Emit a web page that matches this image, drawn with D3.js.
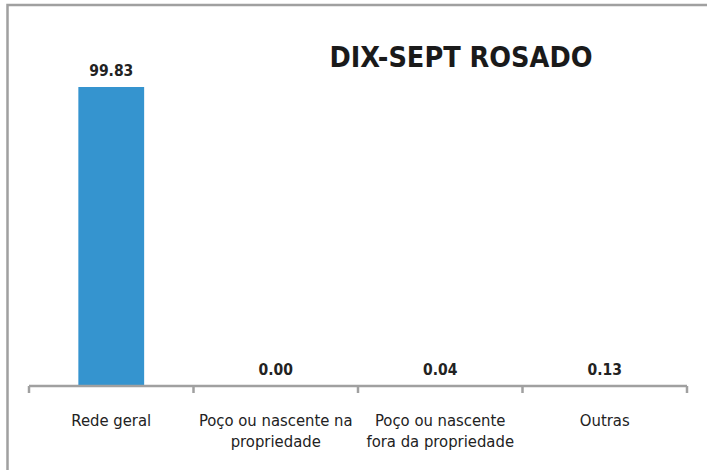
<!DOCTYPE html>
<html>
<head>
<meta charset="utf-8">
<script src="https://cdn.jsdelivr.net/npm/d3@7"></script>
<style>
  body { margin: 0; background: #fff; }
  svg { display: block; }
</style>
</head>
<body>
<div id="chart"></div>
<script>
var title = "DIX-SEPT ROSADO";
var categories = ["Rede geral", "Poço ou nascente na propriedade", "Poço ou nascente fora da propriedade", "Outras"];
var categoryLines = [["Rede geral"], ["Poço ou nascente na", "propriedade"], ["Poço ou nascente", "fora da propriedade"], ["Outras"]];
var values = [99.83, 0.00, 0.04, 0.13];

var W = 707, H = 470;
var margin = {top: 26.6, right: 20, bottom: 84, left: 29};

var svg = d3.select("#chart").append("svg")
  .attr("width", W)
  .attr("height", H);

// outer frame (only top and left visible in the crop)
svg.append("path")
  .attr("d", "M7.5," + H + "V5H" + W)
  .attr("fill", "none")
  .attr("stroke", "#a0a0a0")
  .attr("stroke-width", 2.5);

var x = d3.scaleBand()
  .domain(categories)
  .range([margin.left, 687])
  .paddingInner(0.6)
  .paddingOuter(0.3);

var y = d3.scaleLinear()
  .domain([0, 120])
  .range([386, margin.top]);

var font = "'Liberation Sans Narrow', 'DejaVu Sans Condensed', 'Liberation Sans', sans-serif";

svg.selectAll(".bar")
  .data(values)
  .enter().append("rect")
  .attr("class", "bar")
  .attr("x", function(d, i) { return x(categories[i]); })
  .attr("width", x.bandwidth())
  .attr("y", function(d) { return y(d); })
  .attr("height", function(d) { return y(0) - y(d); })
  .attr("fill", "#3594cf");

// value labels
svg.selectAll(".val")
  .data(values)
  .enter().append("text")
  .attr("class", "val")
  .attr("x", function(d, i) { return x(categories[i]) + x.bandwidth() / 2; })
  .attr("y", function(d) { return y(d) - 11; })
  .attr("text-anchor", "middle")
  .attr("font-family", font)
  .attr("font-weight", "bold")
  .attr("font-size", 15.5)
  .attr("fill", "#222")
  .text(function(d) { return d3.format(".2f")(d); });

// x axis with ticks between categories
var axis = svg.append("g");
var step = x.step();
var edges = d3.range(categories.length + 1).map(function(i) { return margin.left + i * step; });
axis.append("line")
  .attr("x1", margin.left).attr("x2", 687)
  .attr("y1", 386).attr("y2", 386)
  .attr("stroke", "#a0a0a0").attr("stroke-width", 2.5);
axis.selectAll(".tick")
  .data(edges)
  .enter().append("line")
  .attr("x1", function(d) { return d; }).attr("x2", function(d) { return d; })
  .attr("y1", 386).attr("y2", 393)
  .attr("stroke", "#a0a0a0").attr("stroke-width", 2.5);

var labels = svg.selectAll(".cat")
  .data(categoryLines)
  .enter().append("text")
  .attr("class", "cat")
  .attr("text-anchor", "middle")
  .attr("font-family", font)
  .attr("font-size", 16.5)
  .attr("fill", "#222");
labels.each(function(lines, i) {
  var cx = x(categories[i]) + x.bandwidth() / 2;
  d3.select(this).selectAll("tspan")
    .data(lines)
    .enter().append("tspan")
    .attr("x", cx)
    .attr("y", function(d, j) { return 426 + j * 21; })
    .text(function(d) { return d; });
});

svg.append("text")
  .attr("x", 461)
  .attr("y", 67)
  .attr("text-anchor", "middle")
  .attr("font-family", font)
  .attr("font-weight", "bold")
  .attr("font-size", 28.5)
  .attr("fill", "#1a1a1a")
  .text(title);
</script>
</body>
</html>
